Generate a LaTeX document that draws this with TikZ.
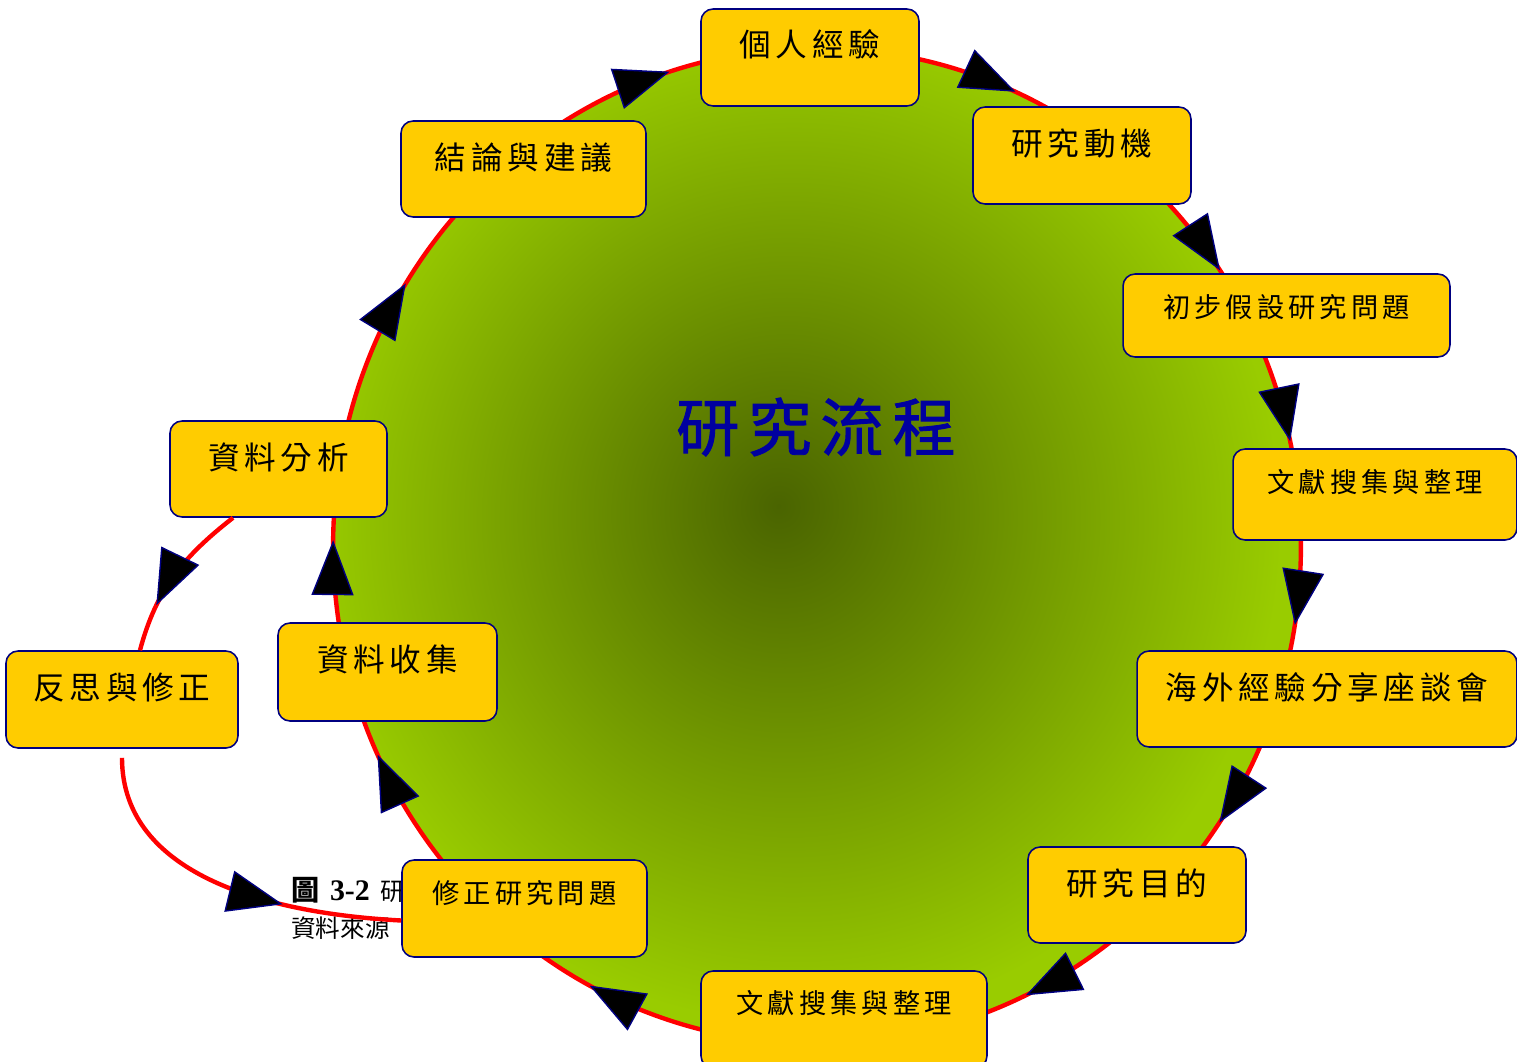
\documentclass[tikz,border=0pt]{standalone}
\usepackage{fontspec}
\setmainfont{Liberation Serif}
\newfontfamily\cjkfont{Noto Sans CJK TC}[LetterSpace=15]
\newfontfamily\titlefont{Noto Sans CJK TC}[LetterSpace=14, FakeBold=1.4]
\newfontfamily\notefont{Noto Sans CJK TC}
\usetikzlibrary{arrows.meta, decorations.markings}

\definecolor{boxfill}{RGB}{255,204,0}
\definecolor{boxline}{RGB}{0,0,128}
\definecolor{ringred}{RGB}{255,0,0}
\definecolor{ringcore}{RGB}{74,100,0}
\definecolor{ringedge}{RGB}{153,204,0}
\definecolor{titleblue}{RGB}{0,0,160}

\pgfdeclareradialshading{ringglow}{\pgfpoint{-2bp}{2bp}}{color(0bp)=(ringcore); color(25bp)=(ringedge); color(50bp)=(ringedge)}

\begin{document}
\begin{tikzpicture}[x=0.02cm, y=0.02cm,
    flowtip/.tip={Triangle[length=1.1cm, width=0.84cm, line width=0.8pt, color=boxline, fill=black]}]
        \tikzstyle{stepbox} = [rectangle, draw=boxline, fill=boxfill, line width=0.9pt,
                            rounded corners=0.24cm, inner sep=0pt]
        \tikzstyle{bigtext} = [font={\cjkfont\fontsize{18pt}{21pt}\selectfont}, text height=0.96cm]
        \tikzstyle{smalltext} = [font={\cjkfont\fontsize{15.5pt}{18pt}\selectfont}, text height=0.87cm]
        \tikzstyle{redline} = [draw=ringred, line width=2.5pt]

        \useasboundingbox (0,0) rectangle (1517,-1061);

        % Cercle
        \coordinate (ring) at (817,-546);
        \path[redline, shade, shading=ringglow, postaction={decorate},
              decoration={markings,
                mark=at position 0.0342 with {\arrowreversed{flowtip}},
                mark=at position 0.0944 with {\arrowreversed{flowtip}},
                mark=at position 0.1836 with {\arrowreversed{flowtip}},
                mark=at position 0.2986 with {\arrowreversed{flowtip}},
                mark=at position 0.4106 with {\arrowreversed{flowtip}},
                mark=at position 0.4981 with {\arrowreversed{flowtip}},
                mark=at position 0.5697 with {\arrowreversed{flowtip}},
                mark=at position 0.6731 with {\arrowreversed{flowtip}},
                mark=at position 0.8201 with {\arrowreversed{flowtip}},
                mark=at position 0.9052 with {\arrowreversed{flowtip}},
                mark=at position 0.9743 with {\arrowreversed{flowtip}}}]
            (ring) ellipse [x radius=9.68cm, y radius=9.96cm];

        \node[font={\titlefont\fontsize{36pt}{40pt}\selectfont}, text=titleblue] (title) at (816,-427) {研究流程};

        % Légende
        \node[anchor=west, inner sep=0pt] (figno) at (291,-890)
            {{\notefont\fontsize{16pt}{18pt}\selectfont\bfseries 圖}\hspace{6pt}{\fontsize{17pt}{19pt}\selectfont\bfseries 3-2}\hspace{6pt}{\notefont\fontsize{14pt}{16pt}\selectfont 研}};
        \node[anchor=west, inner sep=0pt] (source) at (291,-928) {\notefont\fontsize{14pt}{16pt}\selectfont 資料來源};

        % Noeuds
        \node[stepbox, bigtext, minimum width=4.36cm, text depth=0.98cm] (experience) at (810,-57.5) {個人經驗};
        \node[stepbox, bigtext, minimum width=4.36cm, text depth=0.98cm] (motive) at (1082,-155.5) {研究動機};
        \node[stepbox, smalltext, minimum width=6.54cm, text depth=0.79cm] (hypothesis) at (1286.5,-315.5) {初步假設研究問題};
        \node[stepbox, smalltext, minimum width=5.68cm, text depth=0.95cm] (review) at (1375,-494.5) {文獻搜集與整理};
        \node[stepbox, bigtext, minimum width=7.6cm, text depth=0.96cm] (forum) at (1327,-699) {海外經驗分享座談會};
        \node[stepbox, bigtext, minimum width=4.36cm, text depth=0.96cm] (purpose) at (1137,-895) {研究目的};
        \node[stepbox, smalltext, text height=0.85cm, minimum width=5.72cm, text depth=1.09cm] (review2) at (844,-1019.5) {文獻搜集與整理};
        \node[stepbox, smalltext, minimum width=4.9cm, text depth=1.07cm] (revise) at (524.5,-908.5) {修正研究問題};
        \node[stepbox, bigtext, minimum width=4.38cm, text depth=1.0cm] (collect) at (387.5,-672) {資料收集};
        \node[stepbox, bigtext, minimum width=4.34cm, text depth=0.96cm] (analysis) at (278.5,-469) {資料分析};
        \node[stepbox, bigtext, minimum width=4.9cm, text depth=0.96cm] (conclusion) at (523.5,-169) {結論與建議};
        \node[stepbox, bigtext, minimum width=4.64cm, text depth=0.98cm] (reflect) at (122,-699.5) {反思與修正};

        % Flèches
        \draw[redline, postaction={decorate},
              decoration={markings, mark=at position 0.71 with {\arrow{flowtip}}}]
            ([xshift=-0.91cm]analysis.south) to[out=218, in=75] ([xshift=0.36cm]reflect.north);
        \draw[redline, shorten <=0.18cm, postaction={decorate},
              decoration={markings, mark=at position 0.67 with {\arrow{flowtip}}}]
            (reflect.south) to[out=270, in=177] ([yshift=-0.24cm]revise.west);
    \end{tikzpicture}
\end{document}
